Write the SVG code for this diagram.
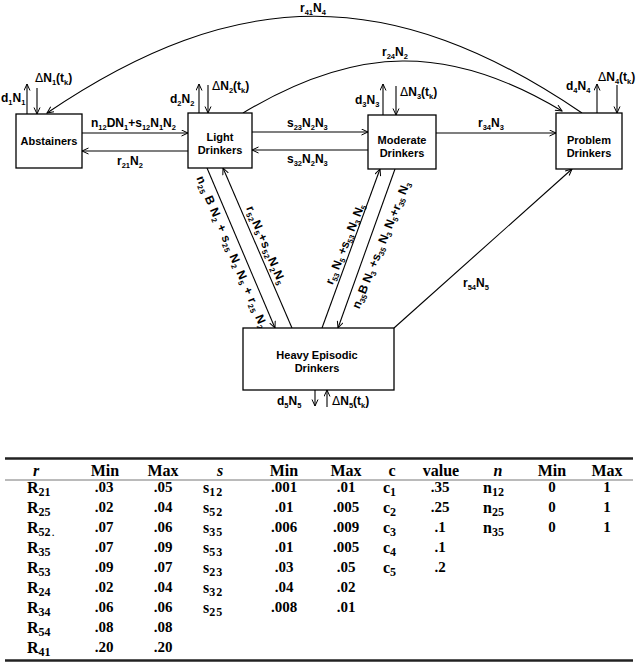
<svg xmlns="http://www.w3.org/2000/svg" width="640" height="668" viewBox="0 0 640 668">
<style>
.lbl{font-family:"Liberation Sans",Arial,sans-serif;font-weight:bold;font-size:12px;fill:#000}
.s{font-size:7.5px}
.d{font-family:"DejaVu Sans",sans-serif;font-weight:normal;font-size:12px}
.box{fill:#fff;stroke:#000;stroke-width:1.3}
.ln{fill:none;stroke:#000;stroke-width:1.1}
.nm{font-family:"Liberation Sans",Arial,sans-serif;font-weight:bold;font-size:11px;text-anchor:middle;fill:#000}
.tb{font-family:"Liberation Serif","Times New Roman",serif;font-weight:bold;font-size:15px;fill:#000}
.th{font-size:16px;text-anchor:middle}
.v{text-anchor:middle}
.rl{font-size:16px}
.rs{font-size:12px}
.it{font-style:italic}
</style>
<defs>
<marker id="ah" markerUnits="userSpaceOnUse" markerWidth="9" markerHeight="8" refX="7" refY="3.5" orient="auto">
<path d="M0.5,0.5 L7,3.5 L0.5,6.5" fill="none" stroke="#000" stroke-width="1"/>
</marker>
</defs>
<rect width="640" height="668" fill="#fff"/>

<g id="connectors">
<path class="ln" d="M582,113 C392,-16 237,-16 47,113" marker-end="url(#ah)"/>
<path class="ln" d="M243,113 C356,45 449,43 562,111" marker-end="url(#ah)"/>
<path class="ln" d="M82,133 L188,133" marker-end="url(#ah)"/>
<path class="ln" d="M188,151 L82,151" marker-end="url(#ah)"/>
<path class="ln" d="M252,132 L368,132" marker-end="url(#ah)"/>
<path class="ln" d="M368,150 L252,150" marker-end="url(#ah)"/>
<path class="ln" d="M436,133 L556,133" marker-end="url(#ah)"/>
<path class="ln" d="M207,168 L275,328" marker-end="url(#ah)"/>
<path class="ln" d="M292,328 L223,168" marker-end="url(#ah)"/>
<path class="ln" d="M322,328 L380,169" marker-end="url(#ah)"/>
<path class="ln" d="M395,169 L338,328" marker-end="url(#ah)"/>
<path class="ln" d="M394,328 L572,169" marker-end="url(#ah)"/>
<path class="ln" d="M27,114 L27,84" marker-end="url(#ah)"/>
<path class="ln" d="M37,88 L37,114" marker-end="url(#ah)"/>
<path class="ln" d="M199,113 L199,84" marker-end="url(#ah)"/>
<path class="ln" d="M208,85 L208,113" marker-end="url(#ah)"/>
<path class="ln" d="M383,115 L383,84" marker-end="url(#ah)"/>
<path class="ln" d="M396,86 L396,115" marker-end="url(#ah)"/>
<path class="ln" d="M597,113 L597,84" marker-end="url(#ah)"/>
<path class="ln" d="M617,85 L617,113" marker-end="url(#ah)"/>
<path class="ln" d="M315,390 L315,406" marker-end="url(#ah)"/>
<path class="ln" d="M327,407 L327,390" marker-end="url(#ah)"/>
</g>

<g id="labels">
<text class="lbl" x="300" y="12">r<tspan class="s" dy="2.5">41</tspan><tspan dy="-2.5">N</tspan><tspan class="s" dy="2.5">4</tspan></text>
<text class="lbl" x="382" y="56">r<tspan class="s" dy="2.5">24</tspan><tspan dy="-2.5">N</tspan><tspan class="s" dy="2.5">2</tspan></text>
<text class="lbl" x="91" y="127">n<tspan class="s" dy="2.5">12</tspan><tspan dy="-2.5">DN</tspan><tspan class="s" dy="2.5">1</tspan><tspan dy="-2.5">+s</tspan><tspan class="s" dy="2.5">12</tspan><tspan dy="-2.5">N</tspan><tspan class="s" dy="2.5">1</tspan><tspan dy="-2.5">N</tspan><tspan class="s" dy="2.5">2</tspan></text>
<text class="lbl" x="117" y="165">r<tspan class="s" dy="2.5">21</tspan><tspan dy="-2.5">N</tspan><tspan class="s" dy="2.5">2</tspan></text>
<text class="lbl" x="287" y="127">s<tspan class="s" dy="2.5">23</tspan><tspan dy="-2.5">N</tspan><tspan class="s" dy="2.5">2</tspan><tspan dy="-2.5">N</tspan><tspan class="s" dy="2.5">3</tspan></text>
<text class="lbl" x="287" y="163">s<tspan class="s" dy="2.5">32</tspan><tspan dy="-2.5">N</tspan><tspan class="s" dy="2.5">2</tspan><tspan dy="-2.5">N</tspan><tspan class="s" dy="2.5">3</tspan></text>
<text class="lbl" x="478" y="127">r<tspan class="s" dy="2.5">34</tspan><tspan dy="-2.5">N</tspan><tspan class="s" dy="2.5">3</tspan></text>
<text class="lbl" x="463" y="287">r<tspan class="s" dy="2.5">54</tspan><tspan dy="-2.5">N</tspan><tspan class="s" dy="2.5">5</tspan></text>

<text class="lbl" x="1" y="102">d<tspan class="s" dy="2.5">1</tspan><tspan dy="-2.5">N</tspan><tspan class="s" dy="2.5">1</tspan></text>
<text class="lbl" x="35" y="82"><tspan class="d">Δ</tspan>N<tspan class="s" dy="2.5">1</tspan><tspan dy="-2.5">(t</tspan><tspan class="s" dy="2.5">k</tspan><tspan dy="-2.5">)</tspan></text>
<text class="lbl" x="170" y="103">d<tspan class="s" dy="2.5">2</tspan><tspan dy="-2.5">N</tspan><tspan class="s" dy="2.5">2</tspan></text>
<text class="lbl" x="212" y="90"><tspan class="d">Δ</tspan>N<tspan class="s" dy="2.5">2</tspan><tspan dy="-2.5">(t</tspan><tspan class="s" dy="2.5">k</tspan><tspan dy="-2.5">)</tspan></text>
<text class="lbl" x="355" y="104">d<tspan class="s" dy="2.5">3</tspan><tspan dy="-2.5">N</tspan><tspan class="s" dy="2.5">3</tspan></text>
<text class="lbl" x="400" y="96"><tspan class="d">Δ</tspan>N<tspan class="s" dy="2.5">3</tspan><tspan dy="-2.5">(t</tspan><tspan class="s" dy="2.5">k</tspan><tspan dy="-2.5">)</tspan></text>
<text class="lbl" x="566" y="90">d<tspan class="s" dy="2.5">4</tspan><tspan dy="-2.5">N</tspan><tspan class="s" dy="2.5">4</tspan></text>
<text class="lbl" x="598" y="81"><tspan class="d">Δ</tspan>N<tspan class="s" dy="2.5">4</tspan><tspan dy="-2.5">(t</tspan><tspan class="s" dy="2.5">k</tspan><tspan dy="-2.5">)</tspan></text>
<text class="lbl" x="277" y="405">d<tspan class="s" dy="2.5">5</tspan><tspan dy="-2.5">N</tspan><tspan class="s" dy="2.5">5</tspan></text>
<text class="lbl" x="332" y="405"><tspan class="d">Δ</tspan>N<tspan class="s" dy="2.5">5</tspan><tspan dy="-2.5">(t</tspan><tspan class="s" dy="2.5">k</tspan><tspan dy="-2.5">)</tspan></text>

<text class="lbl" transform="translate(232,252) rotate(67)" x="-82" y="4" textLength="164" lengthAdjust="spacing">n<tspan class="s" dy="2.5">25</tspan><tspan dy="-2.5"> B N</tspan><tspan class="s" dy="2.5">2</tspan><tspan dy="-2.5"> + s</tspan><tspan class="s" dy="2.5">25</tspan><tspan dy="-2.5"> N</tspan><tspan class="s" dy="2.5">2</tspan><tspan dy="-2.5"> N</tspan><tspan class="s" dy="2.5">5</tspan><tspan dy="-2.5"> + r</tspan><tspan class="s" dy="2.5">25</tspan><tspan dy="-2.5"> N</tspan><tspan class="s" dy="2.5">2</tspan></text>
<text class="lbl" transform="translate(266,245) rotate(67)" x="-42" y="4" textLength="84" lengthAdjust="spacing">r<tspan class="s" dy="2.5">52</tspan><tspan dy="-2.5">N</tspan><tspan class="s" dy="2.5">5</tspan><tspan dy="-2.5">+s</tspan><tspan class="s" dy="2.5">52</tspan><tspan dy="-2.5">N</tspan><tspan class="s" dy="2.5">2</tspan><tspan dy="-2.5">N</tspan><tspan class="s" dy="2.5">5</tspan></text>
<text class="lbl" transform="translate(345,244) rotate(-68)" x="-43" y="4" textLength="86" lengthAdjust="spacing">r<tspan class="s" dy="2.5">53</tspan><tspan dy="-2.5"> N</tspan><tspan class="s" dy="2.5">5</tspan><tspan dy="-2.5"> +s</tspan><tspan class="s" dy="2.5">53</tspan><tspan dy="-2.5"> N</tspan><tspan class="s" dy="2.5">3</tspan><tspan dy="-2.5"> N</tspan><tspan class="s" dy="2.5">5</tspan></text>
<text class="lbl" transform="translate(381,245) rotate(-68)" x="-68" y="4" textLength="136" lengthAdjust="spacing">n<tspan class="s" dy="2.5">35</tspan><tspan dy="-2.5">B N</tspan><tspan class="s" dy="2.5">3</tspan><tspan dy="-2.5"> +s</tspan><tspan class="s" dy="2.5">35</tspan><tspan dy="-2.5"> N</tspan><tspan class="s" dy="2.5">3</tspan><tspan dy="-2.5"> N</tspan><tspan class="s" dy="2.5">5</tspan><tspan dy="-2.5">+r</tspan><tspan class="s" dy="2.5">35</tspan><tspan dy="-2.5"> N</tspan><tspan class="s" dy="2.5">3</tspan></text>
</g>

<g id="abstainers">
<rect class="box" x="16" y="114" width="66" height="54"/>
<text class="nm" x="49" y="145">Abstainers</text>
</g>
<g id="light">
<rect class="box" x="188" y="113" width="64" height="55"/>
<text class="nm" x="220" y="141">Light</text>
<text class="nm" x="220" y="154">Drinkers</text>
</g>
<g id="moderate">
<rect class="box" x="368" y="115" width="68" height="54"/>
<text class="nm" x="402" y="144">Moderate</text>
<text class="nm" x="402" y="157">Drinkers</text>
</g>
<g id="problem">
<rect class="box" x="556" y="113" width="66" height="56"/>
<text class="nm" x="589" y="144">Problem</text>
<text class="nm" x="589" y="157">Drinkers</text>
</g>
<g id="heavy">
<rect class="box" x="243" y="328" width="151" height="62"/>
<text class="nm" x="317" y="359">Heavy Episodic</text>
<text class="nm" x="317" y="372">Drinkers</text>
</g>

<g id="table" class="tb">
<line x1="5" y1="458.5" x2="633" y2="458.5" stroke="#222" stroke-width="2.5"/>
<line x1="5" y1="480" x2="633" y2="480" stroke="#777" stroke-width="1"/>
<line x1="5" y1="660.5" x2="633" y2="660.5" stroke="#222" stroke-width="2.5"/>
<text class="th it" x="36" y="476">r</text>
<text class="th" x="105" y="476">Min</text>
<text class="th" x="163" y="476">Max</text>
<text class="th it" x="220" y="476">s</text>
<text class="th" x="284" y="476">Min</text>
<text class="th" x="346" y="476">Max</text>
<text class="th" x="392" y="476">c</text>
<text class="th" x="441" y="476">value</text>
<text class="th it" x="498" y="476">n</text>
<text class="th" x="552" y="476">Min</text>
<text class="th" x="607" y="476">Max</text>

<text class="rl" x="27" y="493">R<tspan class="rs" dy="3">21</tspan></text>
<text class="rl" x="27" y="513">R<tspan class="rs" dy="3">25</tspan></text>
<text class="rl" x="27" y="533">R<tspan class="rs" dy="3">52</tspan></text>
<text x="52" y="536" font-size="9">.</text>
<text class="rl" x="27" y="553">R<tspan class="rs" dy="3">35</tspan></text>
<text class="rl" x="27" y="573">R<tspan class="rs" dy="3">53</tspan></text>
<text class="rl" x="27" y="593">R<tspan class="rs" dy="3">24</tspan></text>
<text class="rl" x="27" y="613">R<tspan class="rs" dy="3">34</tspan></text>
<text class="rl" x="27" y="633">R<tspan class="rs" dy="3">54</tspan></text>
<text class="rl" x="27" y="653">R<tspan class="rs" dy="3">41</tspan></text>

<text class="v" x="104" y="492">.03</text><text class="v" x="163" y="492">.05</text>
<text class="v" x="104" y="512">.02</text><text class="v" x="163" y="512">.04</text>
<text class="v" x="104" y="532">.07</text><text class="v" x="163" y="532">.06</text>
<text class="v" x="104" y="552">.07</text><text class="v" x="163" y="552">.09</text>
<text class="v" x="104" y="572">.09</text><text class="v" x="163" y="572">.07</text>
<text class="v" x="104" y="592">.02</text><text class="v" x="163" y="592">.04</text>
<text class="v" x="104" y="612">.06</text><text class="v" x="163" y="612">.06</text>
<text class="v" x="104" y="632">.08</text><text class="v" x="163" y="632">.08</text>
<text class="v" x="104" y="652">.20</text><text class="v" x="163" y="652">.20</text>

<text class="rl" x="203" y="493">s<tspan class="rs" dy="3" letter-spacing="1">12</tspan></text>
<text class="rl" x="203" y="513">s<tspan class="rs" dy="3" letter-spacing="1">52</tspan></text>
<text class="rl" x="203" y="533">s<tspan class="rs" dy="3" letter-spacing="1">35</tspan></text>
<text class="rl" x="203" y="553">s<tspan class="rs" dy="3" letter-spacing="1">53</tspan></text>
<text class="rl" x="203" y="573">s<tspan class="rs" dy="3" letter-spacing="1">23</tspan></text>
<text class="rl" x="203" y="593">s<tspan class="rs" dy="3" letter-spacing="1">32</tspan></text>
<text class="rl" x="203" y="613">s<tspan class="rs" dy="3" letter-spacing="1">25</tspan></text>

<text class="v" x="284" y="492">.001</text><text class="v" x="346" y="492">.01</text>
<text class="v" x="284" y="512">.01</text><text class="v" x="346" y="512">.005</text>
<text class="v" x="284" y="532">.006</text><text class="v" x="346" y="532">.009</text>
<text class="v" x="284" y="552">.01</text><text class="v" x="346" y="552">.005</text>
<text class="v" x="284" y="572">.03</text><text class="v" x="346" y="572">.05</text>
<text class="v" x="284" y="592">.04</text><text class="v" x="346" y="592">.02</text>
<text class="v" x="284" y="612">.008</text><text class="v" x="346" y="612">.01</text>

<text class="rl" x="383" y="493">c<tspan class="rs" dy="3">1</tspan></text>
<text class="rl" x="383" y="513">c<tspan class="rs" dy="3">2</tspan></text>
<text class="rl" x="383" y="533">c<tspan class="rs" dy="3">3</tspan></text>
<text class="rl" x="383" y="553">c<tspan class="rs" dy="3">4</tspan></text>
<text class="rl" x="383" y="573">c<tspan class="rs" dy="3">5</tspan></text>
<text class="v" x="440" y="492">.35</text>
<text class="v" x="440" y="512">.25</text>
<text class="v" x="440" y="532">.1</text>
<text class="v" x="440" y="552">.1</text>
<text class="v" x="440" y="572">.2</text>

<text class="rl" x="483" y="493">n<tspan class="rs" dy="3">12</tspan></text>
<text class="rl" x="483" y="513">n<tspan class="rs" dy="3">25</tspan></text>
<text class="rl" x="483" y="533">n<tspan class="rs" dy="3">35</tspan></text>
<text class="v" x="552" y="492">0</text><text class="v" x="607" y="492">1</text>
<text class="v" x="552" y="512">0</text><text class="v" x="607" y="512">1</text>
<text class="v" x="552" y="532">0</text><text class="v" x="607" y="532">1</text>
</g>
</svg>
